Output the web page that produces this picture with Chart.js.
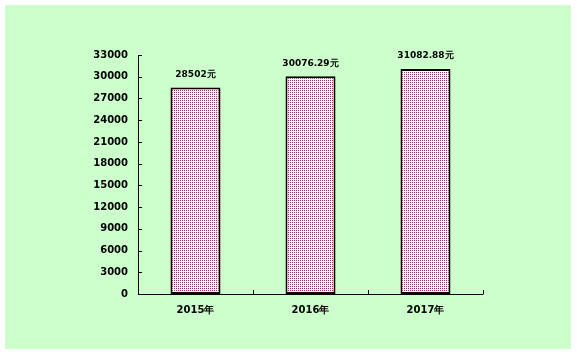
<!DOCTYPE html>
<html>
<head>
<meta charset="utf-8">
<script src="https://cdn.jsdelivr.net/npm/chart.js@4/dist/chart.umd.min.js"></script>
<style>
  html, body { margin: 0; padding: 0; background: #fff; }
  #wrap { width: 577px; height: 354px; }
</style>
</head>
<body>
<div id="wrap"><canvas id="salesChart" width="577" height="354"></canvas></div>
<script>
const years = ['2015年', '2016年', '2017年'];
const income = [28502, 30076.29, 31082.88];
const incomeLabels = ['28502元', '30076.29元', '31082.88元'];
const yTicks = [0, 3000, 6000, 9000, 12000, 15000, 18000, 21000, 24000, 27000, 30000, 33000];

const FONT = 'DejaVu Sans';

// dotted fill like the original
function makeDots() {
  const c = document.createElement('canvas');
  c.width = 2; c.height = 2;
  const g = c.getContext('2d');
  g.fillStyle = '#ffffff';
  g.fillRect(0, 0, 2, 2);
  g.fillStyle = '#993366';
  g.fillRect(0, 0, 1, 1);
  return g.createPattern(c, 'repeat');
}

// green panel behind everything
const panelBg = {
  id: 'panelBg',
  beforeDraw(chart) {
    const ctx = chart.ctx;
    ctx.save();
    ctx.fillStyle = '#ffffff';
    ctx.fillRect(0, 0, chart.width, chart.height);
    ctx.fillStyle = '#CCFFCC';
    ctx.fillRect(5, 5, 566, 344);
    ctx.restore();
  }
};

// axis lines with inward ticks, plus value labels over bars
const axesAndLabels = {
  id: 'axesAndLabels',
  afterDatasetsDraw(chart) {
    const ctx = chart.ctx;
    const area = chart.chartArea;
    const y = chart.scales.y;
    ctx.save();
    ctx.strokeStyle = '#000';
    ctx.lineWidth = 1;
    ctx.beginPath();
    ctx.moveTo(area.left + 0.5, area.top);
    ctx.lineTo(area.left + 0.5, area.bottom + 0.5);
    ctx.lineTo(area.right + 0.5, area.bottom + 0.5);
    yTicks.forEach(v => {
      const py = Math.round(y.getPixelForValue(v)) + 0.5;
      ctx.moveTo(area.left, py);
      ctx.lineTo(area.left + 4, py);
    });
    for (let i = 0; i <= years.length; i++) {
      const px = Math.round(area.left + (area.right - area.left) * i / years.length) + 0.5;
      ctx.moveTo(px, area.bottom);
      ctx.lineTo(px, area.bottom - 4);
    }
    ctx.stroke();

    ctx.fillStyle = '#000';
    ctx.font = 'bold 9px "' + FONT + '"';
    ctx.textAlign = 'center';
    ctx.textBaseline = 'middle';
    chart.getDatasetMeta(0).data.forEach((bar, i) => {
      ctx.fillText(incomeLabels[i], bar.x, bar.y - 13);
    });
    ctx.restore();
  }
};

new Chart(document.getElementById('salesChart'), {
  type: 'bar',
  data: {
    labels: years,
    datasets: [{
      data: income,
      backgroundColor: makeDots(),
      borderColor: '#000',
      borderWidth: 2,
      borderSkipped: false,
      categoryPercentage: 1,
      barPercentage: 0.435
    }]
  },
  options: {
    responsive: false,
    animation: false,
    devicePixelRatio: 1,
    layout: { padding: { left: 0, top: 55, right: 94, bottom: 0 } },
    plugins: { legend: { display: false }, tooltip: { enabled: false } },
    scales: {
      x: {
        grid: { display: false, drawTicks: false },
        border: { display: false },
        ticks: {
          color: '#000',
          font: { family: FONT, weight: 'bold', size: 10 },
          padding: 10
        },
        afterFit(scale) { scale.height = 60; }
      },
      y: {
        min: 0,
        max: 33000,
        grid: { display: false, drawTicks: false },
        border: { display: false },
        afterBuildTicks(scale) { scale.ticks = yTicks.map(v => ({ value: v })); },
        ticks: {
          color: '#000',
          font: { family: FONT, weight: 'bold', size: 10 },
          padding: 10,
          callback: v => String(v)
        },
        afterFit(scale) { scale.width = 138; }
      }
    }
  },
  plugins: [panelBg, axesAndLabels]
});
</script>
</body>
</html>
